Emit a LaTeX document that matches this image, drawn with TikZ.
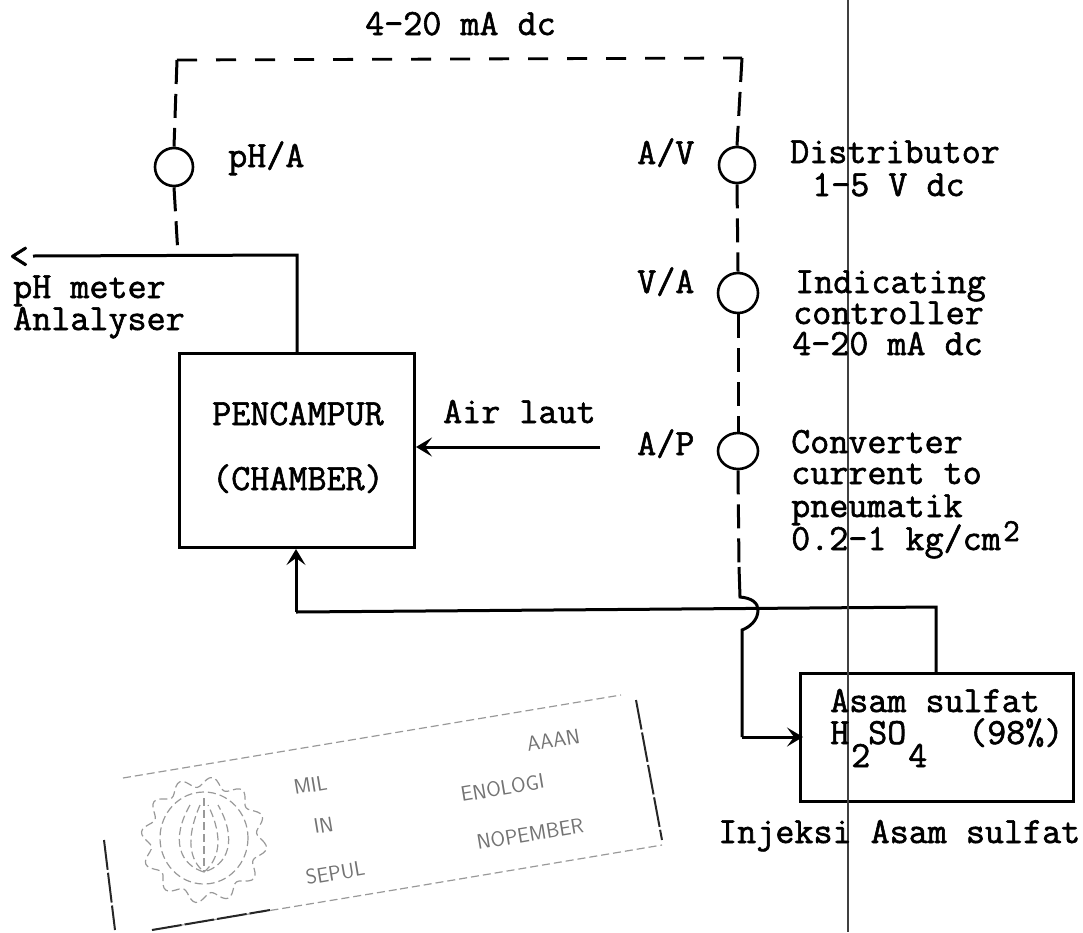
\documentclass[tikz,border=0pt]{standalone}
\usepackage{fontspec}
\setmonofont[FakeBold=1.6]{Latin Modern Mono}
\usetikzlibrary{arrows.meta,shapes.geometric}
\tikzset{
  lbl/.style={anchor=base west,inner sep=0pt,font=\ttfamily\fontsize{37}{37}\selectfont,text=black},
  ins/.style={draw=black,line width=2.6pt,circle,minimum size=38pt,inner sep=0pt},
  insell/.style={draw=black,line width=2.6pt,ellipse,minimum width=40pt,minimum height=36pt,inner sep=0pt},
  boxn/.style={draw=black,line width=3pt,inner sep=0pt,anchor=north west},
  sig/.style={line width=2.8pt,dash pattern=on 20pt off 19pt},
  sigv/.style={line width=3pt,dash pattern=on 24pt off 10pt},
  pipe/.style={line width=3pt},
  tip/.style={-{Stealth[length=16pt,width=19pt,inset=7pt]}},
  stamp/.style={black!40,line width=1.2pt,dash pattern=on 8pt off 4pt},
  stampd/.style={black!85,line width=2pt,dash pattern=on 30pt off 3pt},
  stamptxt/.style={anchor=base west,inner sep=0pt,text=black!55,font=\sffamily\fontsize{21}{21}\selectfont,rotate=9.5}
}
\begin{document}
\begin{tikzpicture}[x=1pt,y=-1pt]
\useasboundingbox (0,0) rectangle (1083,932);
% instruments
\node[ins] (ph) at (174,167) {};
\node[ins,minimum size=36pt] (av) at (737,165) {};
\node[ins,minimum size=40pt] (va) at (738,293) {};
\node[insell] (ap) at (738,451) {};
% boxes
\node[boxn,minimum width=235pt,minimum height=194pt] (ch) at (178,352) {};
\node[boxn,minimum width=273pt,minimum height=128pt] (as) at (799,672) {};
% helper points
\coordinate (tl) at (177,60);
\coordinate (tr) at (742,58);
\coordinate (ptop) at (178,255);
\coordinate (lout) at (33,256);
\coordinate (lcor) at (297,255);
\coordinate (lin) at (297,352);
\coordinate (airs) at (600,447);
\coordinate (bleft) at (296,612);
\coordinate (bright) at (936,607);
\coordinate (jt) at (740,597);
\coordinate (jb) at (742,630);
\coordinate (jd) at (742,737);
\coordinate (dashend) at (739,567);
% signal lines
\draw[sig] (tl) -- (tr);
\draw[sigv] (tl) -- (ph.north);
\draw[sigv] (ph.south) -- (ptop);
\draw[sigv] (tr) -- (av.north);
\draw[sigv] (av.south) -- (va.north);
\draw[sigv] (va.south) -- (ap.north);
\draw[sigv] (ap.south) -- (dashend);
% process lines
\draw[pipe] (dashend) -- (jt) .. controls (752,598) and (758,603) .. (758,610) .. controls (758,620) and (750,627) .. (jb) -- (jd);
\draw[pipe,tip] (jd) -- (as.west |- jd) -- ++(4,0);
\draw[pipe] (lout) -- (lcor) -- (lin);
\draw[pipe,tip] (airs) -- (ch.east |- airs);
\draw[pipe] (as.north -| bright) -- (bright) -- (bleft);
\draw[pipe,tip] (bleft) -- (ch.south -| bleft);
% the open arrow mark
\node[lbl,font=\ttfamily\fontsize{38}{38}\selectfont] (lt) at (9,268) {<};
% sheet fold line
\coordinate (foldt) at (848,0);
\coordinate (foldb) at (848,932);
\draw[black!75,line width=2.4pt] (foldt) -- (foldb);
% labels
\node[lbl] (t1) at (365,35) {4-20 mA dc};
\node[lbl] (t2) at (228,167) {pH/A};
\node[lbl] (t3) at (637,164) {A/V};
\node[lbl] (t4) at (790,163) {Distributor};
\node[lbl] (t5) at (812,196) {1-5 V dc};
\node[lbl] (t6) at (637,293) {V/A};
\node[lbl] (t7) at (795,293) {Indicating};
\node[lbl] (t8) at (793,324) {controller};
\node[lbl] (t9) at (792,355) {4-20 mA dc};
\node[lbl] (t10) at (443,423) {Air laut};
\node[lbl] (t11) at (637,455) {A/P};
\node[lbl] (t12) at (791,453) {Converter};
\node[lbl] (t13) at (791,484) {current to};
\node[lbl] (t14) at (791,517) {pneumatik};
\node[lbl] (t15) at (791,550) {0.2-1 kg/cm};
\node[lbl,font=\ttfamily\fontsize{32}{32}\selectfont] (t16) at (1003,541) {2};
\node[lbl] (t17) at (13,298) {pH meter};
\node[lbl] (t18) at (13,330) {Anlalyser};
\node[lbl] (t19) at (212,425) {PENCAMPUR};
\node[lbl] (t20) at (212,490) {(CHAMBER)};
\node[lbl] (t21) at (830,712) {Asam sulfat};
\node[lbl] (t22) at (830,744) {H};
\node[lbl] (t23) at (868,744) {SO};
\node[lbl] (t24) at (968,744) {(98\%)};
\node[lbl] (t25) at (851,767) {2};
\node[lbl] (t26) at (908,767) {4};
\node[lbl] (t27) at (718,843) {Injeksi Asam sulfat};
% stamp
\draw[stamp] (123,778) -- (621,695);
\draw[stamp] (152,930) -- (400,889);
\draw[stamp] (400,889) -- (662,845);
\draw[stampd] (636,700) -- (662,840);
\draw[stampd] (104,840) -- (115,930);
\draw[stampd] (152,930) -- (270,910);
\node[stamptxt] (s1) at (295,795) {MIL};
\node[stamptxt] (s2) at (528,752) {AAAN};
\node[stamptxt] (s3) at (462,802) {ENOLOGI};
\node[stamptxt] (s4) at (315,834) {IN};
\node[stamptxt] (s5) at (307,885) {SEPUL};
\node[stamptxt] (s6) at (478,850) {NOPEMBER};
% stamp emblem
\draw[stamp] plot[domain=0:360,samples=145,smooth] ({204+(58+5*sin(12*\x))*cos(\x)},{840+(58+5*sin(12*\x))*sin(\x)});
\draw[stamp] (204,838) circle [x radius=44,y radius=46];
\draw[stamp] (190,805) .. controls (170,840) and (180,865) .. (204,872) .. controls (228,865) and (238,840) .. (218,805);
\draw[stamp] (200,805) .. controls (185,840) and (190,860) .. (204,872) .. controls (218,860) and (225,840) .. (208,805);
\draw[stamp] (204,798) -- (204,872);
\end{tikzpicture}
\end{document}
